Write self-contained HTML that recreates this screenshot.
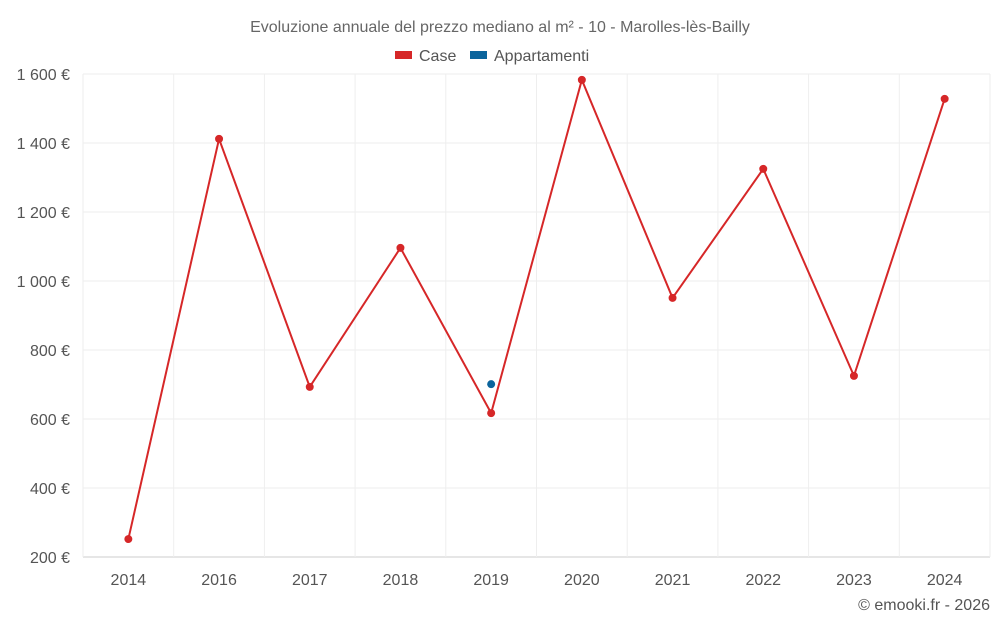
<!DOCTYPE html>
<html><head><meta charset="utf-8"><style>
body{margin:0;background:#fff;font-family:"Liberation Sans",sans-serif;}
svg text{font-family:"Liberation Sans",sans-serif;}
</style></head><body>
<svg id="chart" width="1000" height="625">
<text x="500" y="32" text-anchor="middle" font-size="16" fill="#666">Evoluzione annuale del prezzo mediano al m² - 10 - Marolles-lès-Bailly</text>
<g>
<g><rect x="395" y="51" width="17" height="8" fill="#d62728"/><text x="419" y="61" font-size="16" fill="#555">Case</text></g>
<g><rect x="470" y="51" width="17" height="8" fill="#0b649c"/><text x="494" y="61" font-size="16" fill="#555">Appartamenti</text></g>
</g>
<g id="grid"></g>
<g id="axes"></g>
<g id="series"></g>
<text x="990" y="610" text-anchor="end" font-size="16" fill="#555">© emooki.fr - 2026</text>
</svg>
<script>
const categories=["2014","2016","2017","2018","2019","2020","2021","2022","2023","2024"];
const caseValues=[252,1412,693,1096,617,1583,951,1325,725,1528];
const appValues=[null,null,null,null,701,null,null,null,null,null];
const yTicks=[200,400,600,800,1000,1200,1400,1600];
const yTickLabels=["200 €","400 €","600 €","800 €","1 000 €","1 200 €","1 400 €","1 600 €"];
const L=83,R=990,T=74,B=557,ymin=200,ymax=1600;
const bw=(R-L)/categories.length;
const x=i=>L+bw*(i+0.5);
const y=v=>B-(v-ymin)/(ymax-ymin)*(B-T);
const ns="http://www.w3.org/2000/svg";
function mk(tag,attrs,parent){const e=document.createElementNS(ns,tag);for(const k in attrs)e.setAttribute(k,attrs[k]);parent.appendChild(e);return e;}
const grid=document.getElementById('grid'),axes=document.getElementById('axes'),series=document.getElementById('series');
yTicks.forEach((t,i)=>{
 const ln=mk('line',{x1:L,x2:R,y1:y(t),y2:y(t),stroke:i==0?'#ccc':'#eee','stroke-width':1},grid);
 
 
 const tx=mk('text',{x:70,y:y(t)+6,'text-anchor':'end','font-size':16,fill:'#555'},axes);
 tx.textContent=yTickLabels[i];
 
 
});
for(let i=0;i<=categories.length;i++){
 const ln=mk('line',{x1:L+bw*i,x2:L+bw*i,y1:T,y2:B,stroke:'#eee','stroke-width':1},grid);
 
 
}
categories.forEach((c,i)=>{
 const tx=mk('text',{x:x(i),y:585,'text-anchor':'middle','font-size':16,fill:'#555'},axes);
 tx.textContent=c;
 
 
});
const pts=caseValues.map((v,i)=>x(i)+','+y(v)).join(' ');
const pl=mk('polyline',{points:pts,fill:'none',stroke:'#d62728','stroke-width':2},series);


caseValues.forEach((v,i)=>{
 const c=mk('circle',{cx:x(i),cy:y(v),r:4,fill:'#d62728'},series);
 
 
});
appValues.forEach((v,i)=>{
 if(v==null)return;
 const c=mk('circle',{cx:x(i),cy:y(v),r:4,fill:'#0b649c'},series);
 
 
});
</script>
</body></html>
